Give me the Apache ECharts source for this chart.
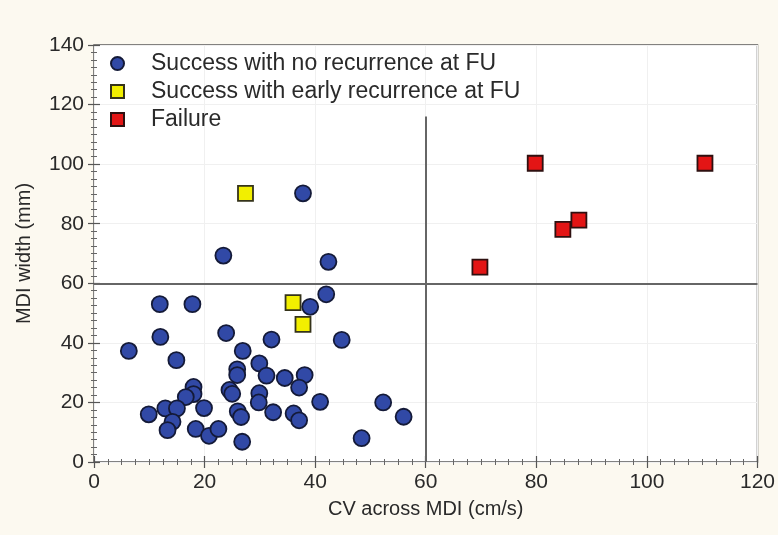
<!DOCTYPE html>
<html>
<head>
<meta charset="utf-8">
<script src="https://cdn.jsdelivr.net/npm/echarts@6/dist/echarts.min.js"></script>
<style>
  html, body { margin: 0; padding: 0; background: #fcf9f0; }
  #chart { width: 778px; height: 535px; }
</style>
</head>
<body>
<div id="chart"></div>
<script>
// CV across the MDI (cm/s) vs MDI width (mm), one array per outcome group
const noRecurrence = [
  [6.3, 37.3], [11.9, 53.0], [17.8, 53.0], [12.0, 42.0], [14.9, 34.2],
  [18.0, 25.2], [18.0, 22.8], [16.6, 21.8], [9.9, 16.0], [12.9, 18.0],
  [15.0, 18.0], [14.2, 13.5], [13.3, 10.7], [18.4, 11.1], [19.9, 18.1],
  [20.8, 8.8], [22.5, 11.1], [26.8, 6.8], [23.9, 43.3], [32.1, 41.1],
  [26.9, 37.3], [29.9, 33.1], [25.9, 31.1], [25.9, 29.2], [31.2, 29.0],
  [34.5, 28.2], [38.1, 29.2], [37.1, 25.0], [24.5, 24.2], [25.0, 22.9],
  [29.9, 23.1], [29.8, 20.0], [26.0, 17.0], [26.6, 15.1], [32.4, 16.7],
  [36.1, 16.3], [37.1, 14.0], [40.9, 20.2], [52.3, 20.0], [56.0, 15.2],
  [48.4, 8.0], [44.8, 41.0], [42.0, 56.3], [39.1, 52.1], [23.4, 69.3],
  [42.4, 67.2], [37.8, 90.2]
];
const earlyRecurrence = [[27.4, 90.2], [36.0, 53.5], [37.8, 46.2]];
const failure = [[79.8, 100.3], [110.5, 100.3], [84.8, 78.1], [87.7, 81.2], [69.8, 65.4]];

const seriesNames = [
  'Success with no recurrence at FU',
  'Success with early recurrence at FU',
  'Failure'
];

// Cut-off values drawn as reference lines
const cvCutoff = 60;
const widthCutoff = 60;
const cvLineTop = 116;

const xRange = { min: 0, max: 120, interval: 20 };
const yRange = { min: 0, max: 140, interval: 20 };

const FONT = "'Liberation Sans', Arial, sans-serif";
const textColor = '#2a2a2a';

function axisBase(range, extra) {
  return Object.assign({
    type: 'value',
    min: range.min,
    max: range.max,
    interval: range.interval,
    axisLine: { show: false },
    axisTick: { show: true, inside: true, length: 6, lineStyle: { color: '#555', width: 1.2 } },
    minorTick: { show: true, splitNumber: 8, length: 3, lineStyle: { color: '#666', width: 1 } },
    splitLine: { show: false }
  }, extra);
}

const chart = echarts.init(document.getElementById('chart'), null, { renderer: 'canvas' });

chart.setOption({
  backgroundColor: '#fcf9f0',
  animation: false,
  grid: {
    left: 94, right: 12, top: 45, bottom: 73,
    show: true,
    backgroundColor: '#ffffff',
    borderColor: '#5a5a5a',
    borderWidth: 1.5
  },
  legend: {
    orient: 'vertical',
    left: 110,
    top: 52,
    padding: 0,
    itemWidth: 13,
    itemHeight: 13,
    itemGap: 5,
    data: [
      { name: seriesNames[0], icon: 'circle' },
      { name: seriesNames[1], icon: 'rect' },
      { name: seriesNames[2], icon: 'rect' }
    ],
    textStyle: { fontFamily: FONT, fontSize: 23, color: textColor, lineHeight: 23, padding: [0, 0, 0, 22] }
  },
  xAxis: [
    axisBase(xRange, {
      position: 'bottom',
      name: 'CV across MDI (cm/s)',
      nameLocation: 'middle',
      nameGap: 37,
      nameTextStyle: { fontFamily: FONT, fontSize: 20, color: textColor },
      axisLabel: { fontFamily: FONT, fontSize: 21, color: textColor, margin: 10 },
      splitLine: { show: true, lineStyle: { color: '#f0f0f0', width: 1 } }
    }),
    axisBase(xRange, { position: 'top', axisLabel: { show: false } })
  ],
  yAxis: [
    axisBase(yRange, {
      position: 'left',
      name: 'MDI width (mm)',
      nameLocation: 'middle',
      nameGap: 60,
      nameTextStyle: { fontFamily: FONT, fontSize: 20, color: textColor },
      axisLabel: { fontFamily: FONT, fontSize: 21, color: textColor, margin: 10 },
      splitLine: { show: true, lineStyle: { color: '#f0f0f0', width: 1 } }
    }),
    axisBase(yRange, { position: 'right', axisLabel: { show: false } })
  ],
  series: [
    {
      name: seriesNames[0],
      type: 'scatter',
      symbol: 'circle',
      symbolSize: 16,
      data: noRecurrence,
      itemStyle: { color: '#3149a6', borderColor: '#141a38', borderWidth: 1.8, opacity: 1 },
      z: 3,
      markLine: {
        silent: true,
        symbol: 'none',
        label: { show: false },
        lineStyle: { color: '#666666', width: 2, type: 'solid' },
        data: [
          { yAxis: widthCutoff },
          [{ coord: [cvCutoff, yRange.min] }, { coord: [cvCutoff, cvLineTop] }]
        ],
        z: 2
      }
    },
    {
      name: seriesNames[1],
      type: 'scatter',
      symbol: 'rect',
      symbolSize: 15,
      data: earlyRecurrence,
      itemStyle: { color: '#f2ef00', borderColor: '#35331a', borderWidth: 1.8, opacity: 1 },
      z: 4
    },
    {
      name: seriesNames[2],
      type: 'scatter',
      symbol: 'rect',
      symbolSize: 15,
      data: failure,
      itemStyle: { color: '#e31515', borderColor: '#2e1010', borderWidth: 1.8, opacity: 1 },
      z: 4
    }
  ]
});
</script>
</body>
</html>
